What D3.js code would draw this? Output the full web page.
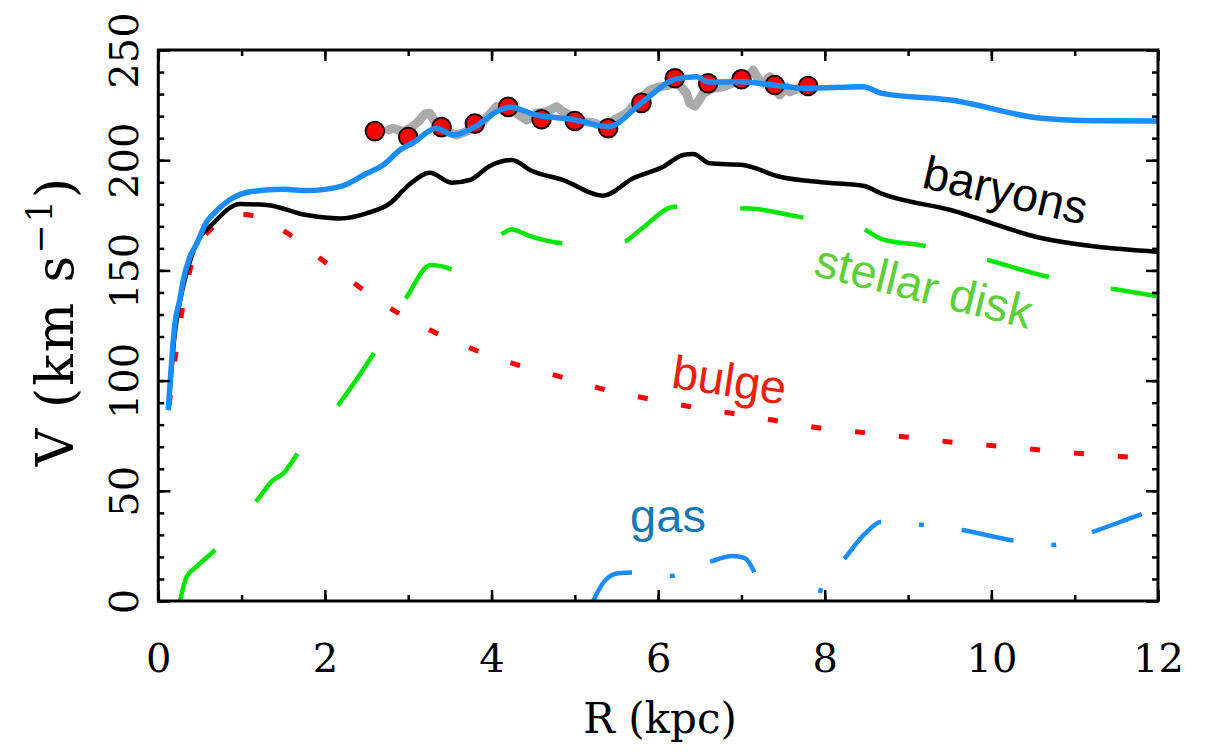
<!DOCTYPE html>
<html lang="en">
<head>
<meta charset="UTF-8">
<title>Rotation curve</title>
<script src="https://d3js.org/d3.v7.min.js"></script>
<style>
  body { margin: 0; background: #fff; }
  svg { display: block; }
</style>
</head>
<body>
<script>
// ---- data: [R (kpc), V (km/s)] ----
var observedPoints = [[2.6, 213.2], [3.0, 210.5], [3.4, 215.0], [3.8, 216.6], [4.2, 224.2], [4.6, 218.6],
    [5.0, 217.8], [5.4, 214.5], [5.8, 226.0], [6.2, 237.2], [6.6, 234.9], [7.0, 236.7], [7.4, 234.1], [7.8, 233.7]];

var observedTrace = [[2.76, 213.7], [2.82, 214.5], [2.94, 213], [3.04, 215], [3.12, 217.5], [3.20, 221], [3.26, 221.3],
    [3.34, 216], [3.46, 213], [3.58, 211.4], [3.70, 213], [3.80, 215.5], [3.90, 217.5], [3.98, 221], [4.06, 224.3],
    [4.18, 223], [4.30, 221.3], [4.42, 218.2], [4.54, 221.3], [4.66, 222], [4.78, 224.3], [4.86, 222], [4.94, 220.5],
    [5.02, 219], [5.10, 217.5], [5.22, 217], [5.34, 215.2], [5.46, 218], [5.62, 221.3], [5.76, 227], [5.90, 231.8],
    [6.02, 233.3], [6.12, 234], [6.20, 235.6], [6.28, 233], [6.34, 230.3], [6.38, 225.8], [6.44, 224.5], [6.48, 226.5],
    [6.54, 230.3], [6.66, 232.6], [6.78, 233.3], [6.90, 235], [7.02, 236.4], [7.10, 239], [7.14, 240.9], [7.20, 237],
    [7.26, 234.9], [7.34, 237.9], [7.40, 233], [7.46, 229.6], [7.54, 233.3], [7.58, 231.1], [7.68, 232.5], [7.80, 232],
    [7.88, 233]];

var totalCurve = [[0.12, 86.6], [0.2, 126], [0.26, 137], [0.3, 145.6], [0.38, 156.2], [0.46, 162], [0.58, 172],
    [0.66, 175.5], [0.9, 183], [1.1, 185.7], [1.5, 186.8], [1.78, 186.2], [2.18, 188], [2.5, 194], [2.7, 197.8],
    [2.9, 204.6], [3.06, 208], [3.34, 214.5], [3.54, 211.4], [3.82, 215.5], [4.06, 222], [4.22, 224], [4.54, 220.5],
    [4.98, 218.5], [5.4, 215.2], [5.8, 226], [6.2, 236.7], [6.46, 237.9], [6.6, 235.5], [7.0, 235.6], [7.4, 234],
    [7.79, 232.6], [8.46, 233.3], [8.69, 230.3], [9.51, 227.3], [10.61, 219], [11.25, 217.9], [12, 217.8]];

var baryonCurve = [[0.12, 86.6], [0.2, 122], [0.3, 143], [0.46, 162.3], [0.66, 171.4], [0.98, 180.1], [1.3, 179.7],
    [1.78, 175.1], [2.18, 173.6], [2.5, 175.9], [2.78, 180.4], [3.0, 188.5], [3.26, 194.3], [3.52, 189.8], [3.74, 191],
    [3.98, 197.4], [4.24, 200.1], [4.48, 195.2], [4.86, 191], [5.34, 183.9], [5.70, 191.8], [6.06, 197], [6.30, 202.4],
    [6.42, 202.8], [6.62, 198.6], [7.02, 197.8], [7.46, 192.5], [7.96, 190], [8.46, 188.4], [8.69, 184.7],
    [9.51, 177.4], [10.61, 164.6], [11.25, 160.8], [12, 158.4]];

var bulgeCurve = [[0.12, 86], [0.36, 147], [0.58, 166.8], [1.02, 175.4], [1.52, 167.6], [1.94, 155.5], [2.38, 143.4],
    [2.82, 132], [3.28, 122.6], [3.78, 114.2], [4.28, 107.5], [4.82, 101.8], [5.30, 96.5], [5.82, 92.2], [6.34, 88.5],
    [6.88, 85.2], [7.42, 81.8], [7.94, 78.5], [8.48, 76.4], [9.0, 74.3], [9.55, 72], [10.07, 70.3], [10.6, 68.5],
    [11.14, 66.7], [11.67, 65.2], [12, 64.2]];

var diskCurve = [[0.26, 0], [0.34, 11], [0.46, 15.6], [0.70, 23.9], [1.17, 45], [1.38, 54.9], [1.50, 57.9],
    [1.68, 67.3], [2.16, 88.9], [2.60, 113.1], [2.98, 137.8], [3.27, 152.4], [3.42, 151.7], [3.56, 150.2],
    [4.15, 167.1], [4.24, 168.6], [4.48, 165.3], [4.9, 162.3], [5.56, 162.6], [5.78, 168.3], [6.2, 178.9],
    [6.9, 177.7], [7.04, 178.2], [7.68, 174.4], [8.41, 169.8], [8.69, 164.1], [9.14, 161.5], [9.88, 155.5],
    [10.63, 147.5], [11.36, 142.3], [11.98, 138.4]];

// gas is only drawn where it is real
var gasInner = [[5.22, 0], [5.35, 8.8], [5.52, 12.6], [5.70, 12.9], [6.14, 11.3], [6.62, 17.8], [6.89, 20.4],
    [7.04, 19.4], [7.16, 12.6]];
var gasOuter = [[7.93, 0], [7.96, 6.5], [8.24, 19.4], [8.48, 30.4], [8.68, 36], [9.18, 34.5], [9.65, 32.2],
    [10.27, 27.4], [10.74, 25.4], [11.22, 31.4], [11.81, 39.5], [12, 42]];

var xTicks = [0, 2, 4, 6, 8, 10, 12];
var yTicks = [0, 50, 100, 150, 200, 250];

// ---- setup ----
var width = 1217, height = 752;
var svg = d3.select("body").append("svg").attr("width", width).attr("height", height);

var x = d3.scaleLinear().domain([0, 12]).range([158.3, 1158]);
var y = d3.scaleLinear().domain([0, 250]).range([601, 50]);

var line = d3.line().x(d => x(d[0])).y(d => y(d[1])).curve(d3.curveMonotoneX);
var serif = "'DejaVu Serif', serif";
var sans = "'Liberation Sans', Arial, sans-serif";

// find where along a path a given screen x is reached (used to phase the dashes)
function lengthAtX(path, px) {
    var lo = 0, hi = path.getTotalLength();
    for (var i = 0; i < 40; i++) {
        var mid = (lo + hi) / 2;
        if (path.getPointAtLength(mid).x < px) lo = mid; else hi = mid;
    }
    return lo;
}

function drawCurve(data, color, w, dash, phaseX) {
    var p = svg.append("path")
        .datum(data)
        .attr("fill", "none")
        .attr("stroke", color)
        .attr("stroke-width", w)
        .attr("stroke-linejoin", "round")
        .attr("d", line);
    if (dash) {
        p.attr("stroke-dasharray", dash.join(","));
        if (phaseX != null) {
            var period = d3.sum(dash);
            var s0 = lengthAtX(p.node(), phaseX);
            p.attr("stroke-dashoffset", ((-s0 % period) + period) % period);
        }
    }
    return p;
}

// components
drawCurve(gasInner, "#1a8cff", 4.5, [53, 38, 5, 38]);
drawCurve(gasOuter, "#1a8cff", 4.5, [53, 38, 5, 38]).attr("stroke-dashoffset", 83);
drawCurve(diskCurve, "#00e600", 4.5, [64, 63], x(1.17));
drawCurve(bulgeCurve, "#ff0000", 5, [10, 34], x(5.24));
drawCurve(baryonCurve, "#000000", 4.5);

// observed data
svg.append("path")
    .datum(observedTrace)
    .attr("fill", "none")
    .attr("stroke", "#aaaaaa")
    .attr("stroke-width", 9)
    .attr("stroke-linejoin", "round")
    .attr("stroke-linecap", "round")
    .attr("d", d3.line().x(d => x(d[0])).y(d => y(d[1])));

svg.append("g")
    .selectAll("circle")
    .data(observedPoints)
    .enter()
    .append("circle")
    .attr("cx", d => x(d[0]))
    .attr("cy", d => y(d[1]))
    .attr("r", 9.3)
    .attr("fill", "#ff0000")
    .attr("stroke", "#1a0000")
    .attr("stroke-width", 2);

drawCurve(totalCurve, "#1a8cff", 5.5);

// ---- frame and ticks (all pointing in) ----
var minorX = d3.range(0, 13, 1), minorY = d3.range(0, 251, 10);

function tickGroup(axis, tr) {
    var g = svg.append("g").attr("transform", tr).call(axis);
    g.select(".domain").remove();
    g.selectAll("line").attr("stroke", "#000").attr("stroke-width", 2.5);
    return g;
}

tickGroup(d3.axisBottom(x).tickValues(minorX).tickSize(-6).tickFormat(""), "translate(0," + y(0) + ")");
tickGroup(d3.axisTop(x).tickValues(minorX).tickSize(-6).tickFormat(""), "translate(0," + y(250) + ")");
tickGroup(d3.axisLeft(y).tickValues(minorY).tickSize(-6).tickFormat(""), "translate(" + x(0) + ",0)");
tickGroup(d3.axisRight(y).tickValues(minorY).tickSize(-6).tickFormat(""), "translate(" + x(12) + ",0)");

var gx = tickGroup(d3.axisBottom(x).tickValues(xTicks).tickSize(-11).tickFormat(d3.format("d")), "translate(0," + y(0) + ")");
gx.selectAll("text")
    .attr("y", 71).attr("dy", 0)
    .style("font-family", serif).style("font-size", "40px").attr("fill", "#000");

var gy = tickGroup(d3.axisLeft(y).tickValues(yTicks).tickSize(-12).tickFormat(d3.format("d")), "translate(" + x(0) + ",0)");
gy.selectAll("text")
    .attr("transform", "rotate(-90)")
    .attr("x", 0).attr("y", -20).attr("dy", 0)
    .attr("text-anchor", "middle")
    .style("font-family", serif).style("font-size", "40px").attr("fill", "#000");

tickGroup(d3.axisTop(x).tickValues(xTicks).tickSize(-11).tickFormat(""), "translate(0," + y(250) + ")");
tickGroup(d3.axisRight(y).tickValues(yTicks).tickSize(-12).tickFormat(""), "translate(" + x(12) + ",0)");

svg.append("rect")
    .attr("x", x(0)).attr("y", y(250))
    .attr("width", x(12) - x(0)).attr("height", y(0) - y(250))
    .attr("fill", "none").attr("stroke", "#000").attr("stroke-width", 3);

// ---- axis titles ----
svg.append("text")
    .attr("x", 660).attr("y", 733)
    .attr("text-anchor", "middle")
    .style("font-family", serif).style("font-size", "42px")
    .text("R (kpc)");

var yt = svg.append("text")
    .attr("transform", "translate(73,321) rotate(-90)")
    .attr("text-anchor", "middle")
    .style("font-family", serif).style("font-size", "52px")
    .attr("letter-spacing", 2);
yt.append("tspan").text("V (km s");
yt.append("tspan").attr("dy", -21).style("font-size", "35px").text("\u22121");
yt.append("tspan").attr("dy", 21).text(")");

// ---- curve labels ----
var curveLabels = [
    { text: "baryons", color: "#000000", cx: 1002, cy: 206, angle: 13 },
    { text: "stellar disk", color: "#5ccf3a", cx: 920, cy: 302, angle: 14 },
    { text: "bulge", color: "#e8200c", cx: 727, cy: 396, angle: 8.5 },
    { text: "gas", color: "#1578b8", cx: 668, cy: 532, angle: 0 }
];
svg.append("g")
    .selectAll("text")
    .data(curveLabels)
    .enter()
    .append("text")
    .attr("transform", d => "translate(" + d.cx + "," + d.cy + ") rotate(" + d.angle + ")")
    .attr("text-anchor", "middle")
    .style("font-family", sans)
    .style("font-size", "47px")
    .attr("fill", d => d.color)
    .text(d => d.text);
</script>
</body>
</html>
